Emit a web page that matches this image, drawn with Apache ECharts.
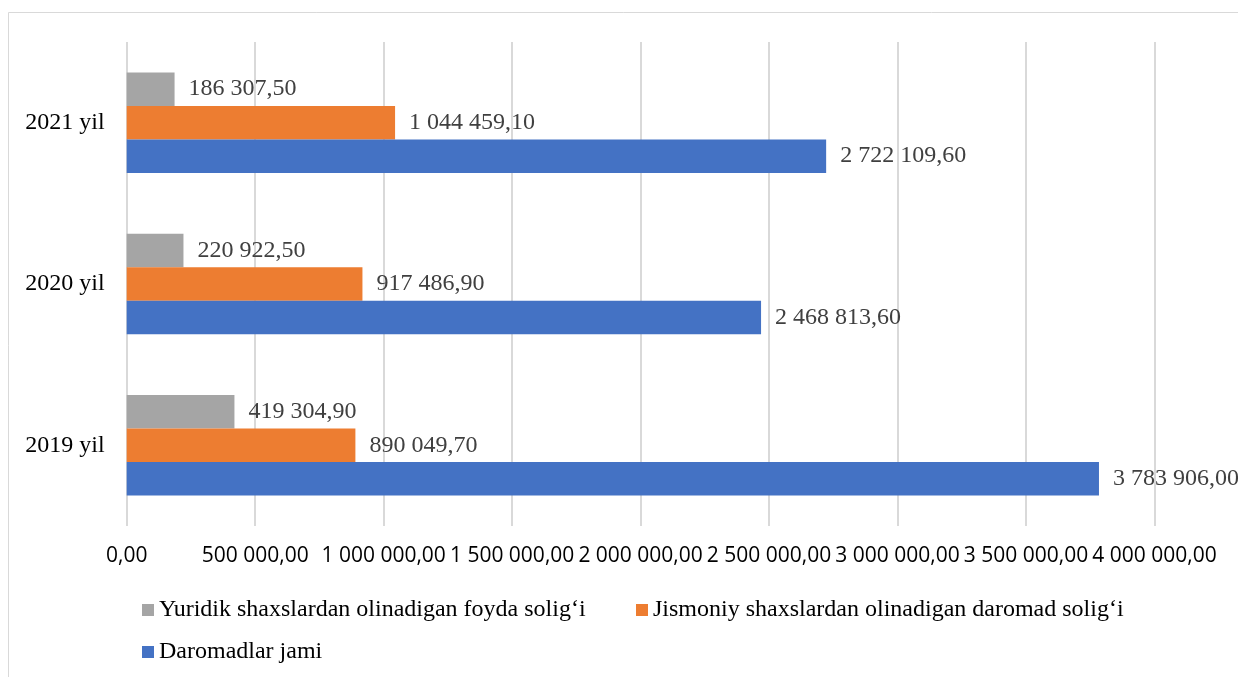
<!DOCTYPE html>
<html>
<head>
<meta charset="utf-8">
<script src="https://cdn.jsdelivr.net/npm/echarts@6/dist/echarts.min.js"></script>
<style>
html,body{margin:0;padding:0;background:#fff;}
#chart{width:1238px;height:677px;}
</style>
</head>
<body>
<div id="chart"></div>
<script>
const categories = ['2019 yil', '2020 yil', '2021 yil'];
const seriesNames = [
  'Yuridik shaxslardan olinadigan foyda solig‘i',
  'Jismoniy shaxslardan olinadigan daromad solig‘i',
  'Daromadlar jami'
];
const yuridik = [419304.90, 220922.50, 186307.50];
const jismoniy = [890049.70, 917486.90, 1044459.10];
const jami = [3783906.00, 2468813.60, 2722109.60];
const axisMin = 0, axisMax = 4000000, axisStep = 500000;

function fmt(v) {
  const parts = Number(v).toFixed(2).split('.');
  const intPart = parts[0].replace(/\B(?=(\d{3})+(?!\d))/g, ' ');
  return intPart + ',' + parts[1];
}

const serif = 'Liberation Serif';
const colors = ['#A5A5A5', '#ED7D31', '#4472C4'];
const dataSets = [yuridik, jismoniy, jami];

const chart = echarts.init(document.getElementById('chart'));
const legendBase = {
  icon: 'rect', itemWidth: 12, itemHeight: 12, orient: 'horizontal',
  textStyle: { fontFamily: serif, fontSize: 24, color: '#000' },
  selectedMode: false, padding: 0
};
chart.setOption({
  animation: false,
  backgroundColor: '#fff',
  color: colors,
  graphic: [{
    type: 'rect', silent: true,
    shape: { x: 8.5, y: 12.5, width: 1240, height: 680 },
    style: { fill: 'none', stroke: '#d9d9d9', lineWidth: 1 }
  }],
  legend: [
    Object.assign({}, legendBase, { data: [seriesNames[0]], left: 142, top: 598 }),
    Object.assign({}, legendBase, { data: [seriesNames[1]], left: 636, top: 598 }),
    Object.assign({}, legendBase, { data: [seriesNames[2]], left: 142, top: 640 })
  ],
  grid: { left: 126.7, right: 83.5, top: 42, bottom: 151, containLabel: false },
  xAxis: {
    type: 'value', min: axisMin, max: axisMax, interval: axisStep,
    axisLine: { show: false }, axisTick: { show: false },
    splitLine: { show: true, lineStyle: { color: '#d9d9d9', width: 2 } },
    axisLabel: {
      formatter: fmt, margin: 20, fontFamily: 'Open Sans', fontSize: 21,
      color: '#000', showMinLabel: true, showMaxLabel: true, hideOverlap: false
    }
  },
  yAxis: {
    type: 'category', data: categories,
    axisLine: { show: false }, axisTick: { show: false },
    axisLabel: { margin: 22, fontFamily: serif, fontSize: 24, color: '#000' }
  },
  series: seriesNames.map((name, i) => ({
    name: name,
    type: 'bar',
    data: dataSets[i],
    barWidth: 33.5,
    barGap: '0%',
    itemStyle: { color: colors[i] },
    label: {
      show: true, position: 'right', distance: 14,
      formatter: p => fmt(p.value),
      fontFamily: serif, fontSize: 24, color: '#404040'
    }
  }))
});
</script>
</body>
</html>
